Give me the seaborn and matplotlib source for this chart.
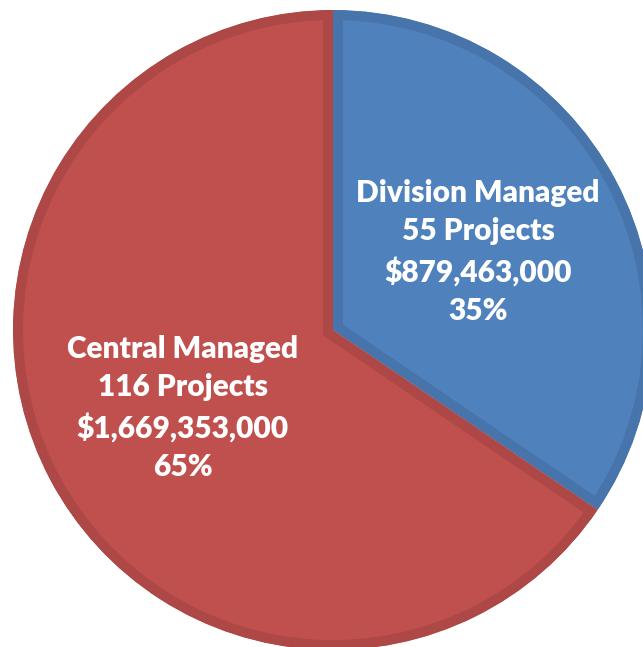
import seaborn as sns
import matplotlib.pyplot as plt

# data
groups = ['Division Managed', 'Central Managed']
projects = [55, 116]
amounts = [879463000, 1669353000]
percents = [35, 65]

fill_colors = ['#4F81BD', '#C0504D']
edge_colors = ['#4774AA', '#AE4846']

sns.set_theme(style='white')
plt.rcParams['font.family'] = ['Lato', 'DejaVu Sans']

fig = plt.figure(figsize=(6.43, 6.47), dpi=100)
ax = fig.add_axes([0, 0, 1, 1])

wedges, _ = ax.pie(amounts, startangle=90, counterclock=False,
                   colors=fill_colors, radius=1)
ax.set_xlim(-333 / 320, 310 / 320)
ax.set_ylim(-317 / 320, 330 / 320)
ax.set_aspect('auto')

# darker border drawn inside each wedge (stroke clipped to the wedge)
for w, ec in zip(wedges, edge_colors):
    w.set_edgecolor(ec)
    w.set_linewidth(14.4)
    w.set_joinstyle('miter')
    w.set_clip_on(True)
    w.set_clip_path(w.get_path(), ax.transData)

label_pos = [(0.453, 0.244), (-0.469, -0.244)]
for g, n, a, p, (x, y) in zip(groups, projects, amounts, percents, label_pos):
    txt = f"{g}\n{n} Projects\n${a:,}\n{p}%"
    ax.text(x, y, txt, ha='center', va='center', color='white',
            fontsize=21.5, fontweight='heavy', linespacing=1.45)

ax.axis('off')

fig.savefig('out.png', dpi=100)
